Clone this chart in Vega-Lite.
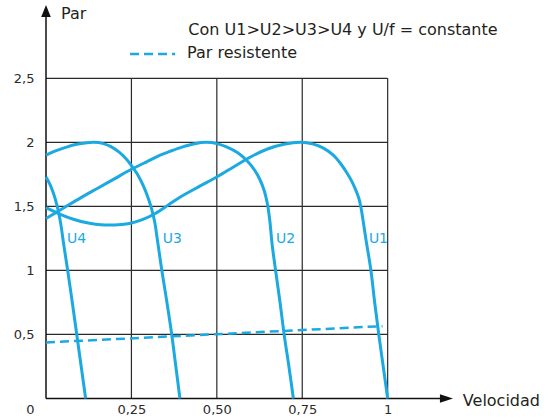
{
  "$schema": "https://vega.github.io/schema/vega-lite/v6.json",
  "width": 410,
  "height": 397,
  "autosize": {"type": "none"},
  "padding": {"left": 46, "top": 1.5, "right": 91, "bottom": 21.5},
  "background": "white",
  "config": {"view": {"stroke": null}},
  "data": {"values": [{"k": 1}]},
  "datasets": {
    "curves": [
      {"s": "U4", "x": 0, "y": 1.73},
      {"s": "U4", "x": 0.012, "y": 1.67},
      {"s": "U4", "x": 0.022, "y": 1.6},
      {"s": "U4", "x": 0.031, "y": 1.52},
      {"s": "U4", "x": 0.038, "y": 1.44},
      {"s": "U4", "x": 0.044, "y": 1.35},
      {"s": "U4", "x": 0.052, "y": 1.2},
      {"s": "U4", "x": 0.0635, "y": 1.0},
      {"s": "U4", "x": 0.077, "y": 0.75},
      {"s": "U4", "x": 0.09, "y": 0.5},
      {"s": "U4", "x": 0.103, "y": 0.25},
      {"s": "U4", "x": 0.116, "y": 0},
      {"s": "U3", "x": 0, "y": 1.9},
      {"s": "U3", "x": 0.03, "y": 1.935},
      {"s": "U3", "x": 0.06, "y": 1.963},
      {"s": "U3", "x": 0.09, "y": 1.985},
      {"s": "U3", "x": 0.12, "y": 1.997},
      {"s": "U3", "x": 0.14, "y": 2.0},
      {"s": "U3", "x": 0.165, "y": 1.992},
      {"s": "U3", "x": 0.19, "y": 1.967},
      {"s": "U3", "x": 0.215, "y": 1.922},
      {"s": "U3", "x": 0.235, "y": 1.87},
      {"s": "U3", "x": 0.25, "y": 1.818},
      {"s": "U3", "x": 0.27, "y": 1.74},
      {"s": "U3", "x": 0.285, "y": 1.66},
      {"s": "U3", "x": 0.299, "y": 1.565},
      {"s": "U3", "x": 0.309, "y": 1.48},
      {"s": "U3", "x": 0.318, "y": 1.38},
      {"s": "U3", "x": 0.326, "y": 1.24},
      {"s": "U3", "x": 0.339, "y": 1.0},
      {"s": "U3", "x": 0.354, "y": 0.75},
      {"s": "U3", "x": 0.368, "y": 0.5},
      {"s": "U3", "x": 0.38, "y": 0.25},
      {"s": "U3", "x": 0.392, "y": 0},
      {"s": "U2", "x": 0, "y": 1.406},
      {"s": "U2", "x": 0.05, "y": 1.485},
      {"s": "U2", "x": 0.1, "y": 1.565},
      {"s": "U2", "x": 0.15, "y": 1.64},
      {"s": "U2", "x": 0.2, "y": 1.715},
      {"s": "U2", "x": 0.25, "y": 1.79},
      {"s": "U2", "x": 0.3, "y": 1.855},
      {"s": "U2", "x": 0.334, "y": 1.9},
      {"s": "U2", "x": 0.363, "y": 1.93},
      {"s": "U2", "x": 0.4, "y": 1.965},
      {"s": "U2", "x": 0.435, "y": 1.99},
      {"s": "U2", "x": 0.47, "y": 2.0},
      {"s": "U2", "x": 0.5, "y": 1.99},
      {"s": "U2", "x": 0.53, "y": 1.962},
      {"s": "U2", "x": 0.56, "y": 1.92},
      {"s": "U2", "x": 0.587, "y": 1.86},
      {"s": "U2", "x": 0.61, "y": 1.785},
      {"s": "U2", "x": 0.626, "y": 1.71},
      {"s": "U2", "x": 0.639, "y": 1.62},
      {"s": "U2", "x": 0.648, "y": 1.52},
      {"s": "U2", "x": 0.655, "y": 1.39},
      {"s": "U2", "x": 0.662, "y": 1.2},
      {"s": "U2", "x": 0.672, "y": 1.0},
      {"s": "U2", "x": 0.685, "y": 0.75},
      {"s": "U2", "x": 0.697, "y": 0.5},
      {"s": "U2", "x": 0.711, "y": 0.25},
      {"s": "U2", "x": 0.724, "y": 0},
      {"s": "U1", "x": 0, "y": 1.49},
      {"s": "U1", "x": 0.04, "y": 1.44},
      {"s": "U1", "x": 0.08, "y": 1.4},
      {"s": "U1", "x": 0.12, "y": 1.372},
      {"s": "U1", "x": 0.16, "y": 1.357},
      {"s": "U1", "x": 0.2, "y": 1.355},
      {"s": "U1", "x": 0.24, "y": 1.365},
      {"s": "U1", "x": 0.28, "y": 1.395},
      {"s": "U1", "x": 0.32, "y": 1.445},
      {"s": "U1", "x": 0.36, "y": 1.515},
      {"s": "U1", "x": 0.392, "y": 1.572},
      {"s": "U1", "x": 0.45, "y": 1.658},
      {"s": "U1", "x": 0.5, "y": 1.73},
      {"s": "U1", "x": 0.55, "y": 1.81},
      {"s": "U1", "x": 0.6, "y": 1.888},
      {"s": "U1", "x": 0.65, "y": 1.95},
      {"s": "U1", "x": 0.7, "y": 1.987},
      {"s": "U1", "x": 0.745, "y": 2.0},
      {"s": "U1", "x": 0.78, "y": 1.988},
      {"s": "U1", "x": 0.812, "y": 1.955},
      {"s": "U1", "x": 0.84, "y": 1.902},
      {"s": "U1", "x": 0.862, "y": 1.835},
      {"s": "U1", "x": 0.88, "y": 1.765},
      {"s": "U1", "x": 0.895, "y": 1.695},
      {"s": "U1", "x": 0.907, "y": 1.625},
      {"s": "U1", "x": 0.916, "y": 1.56},
      {"s": "U1", "x": 0.922, "y": 1.49},
      {"s": "U1", "x": 0.928, "y": 1.39},
      {"s": "U1", "x": 0.936, "y": 1.25},
      {"s": "U1", "x": 0.951, "y": 1.0},
      {"s": "U1", "x": 0.962, "y": 0.75},
      {"s": "U1", "x": 0.974, "y": 0.5},
      {"s": "U1", "x": 0.987, "y": 0.25},
      {"s": "U1", "x": 1.0, "y": 0}
    ],
    "load": [
      {"x": 0, "y": 0.4375},
      {"x": 0.985, "y": 0.565}
    ],
    "gridV": [{"v": 0.25}, {"v": 0.5}, {"v": 0.75}, {"v": 1}],
    "gridH": [{"h": 0.5}, {"h": 1}, {"h": 1.5}, {"h": 2}, {"h": 2.5}],
    "labels": [
      {"label": "U4", "x": 0.0615, "y": 1.245},
      {"label": "U3", "x": 0.342, "y": 1.245},
      {"label": "U2", "x": 0.673, "y": 1.245},
      {"label": "U1", "x": 0.945, "y": 1.245}
    ]
  },
  "encoding": {
    "x": {
      "type": "quantitative",
      "scale": {"domain": [0, 1.2], "nice": false, "zero": false},
      "axis": {
        "title": null, "values": [0, 0.25, 0.5, 0.75, 1],
        "domain": false, "ticks": false, "grid": false,
        "labelFlush": false, "labelOverlap": false,
        "labelPadding": 5,
        "labelOffset": {"condition": {"test": "datum.value == 0", "value": -16}, "value": 0},
        "labelFont": "DejaVu Sans", "labelFontSize": 13, "labelColor": "#2b2b2b",
        "labelExpr": "datum.value == 0 ? '0' : datum.value == 1 ? '1' : replace(format(datum.value, '.2f'), '.', ',')"
      }
    },
    "y": {
      "type": "quantitative",
      "scale": {"domain": [0, 3.1], "nice": false, "zero": false},
      "axis": {
        "title": null, "values": [0.5, 1, 1.5, 2, 2.5],
        "domain": false, "ticks": false, "grid": false,
        "labelPadding": 12, "labelOverlap": false,
        "labelFont": "DejaVu Sans", "labelFontSize": 13, "labelColor": "#2b2b2b",
        "labelExpr": "replace(format(datum.value, '~g'), '.', ',')"
      }
    }
  },
  "layer": [
    {
      "data": {"name": "gridV"},
      "mark": {"type": "rule", "color": "#2a2a2a", "strokeWidth": 1.2},
      "encoding": {
        "x": {"field": "v"},
        "y": {"datum": 0},
        "y2": {"datum": 2.5}
      }
    },
    {
      "data": {"name": "gridH"},
      "mark": {"type": "rule", "color": "#2a2a2a", "strokeWidth": 1.2},
      "encoding": {
        "y": {"field": "h"},
        "x": {"datum": 0},
        "x2": {"datum": 1}
      }
    },
    {
      "mark": {"type": "rule", "color": "#111111", "strokeWidth": 1.5},
      "encoding": {
        "x": {"datum": 0},
        "x2": {"datum": 1.16},
        "y": {"datum": 0}
      }
    },
    {
      "mark": {"type": "rule", "color": "#111111", "strokeWidth": 1.5},
      "encoding": {
        "y": {"datum": 0},
        "y2": {"datum": 3.0},
        "x": {"datum": 0}
      }
    },
    {
      "mark": {"type": "point", "shape": "M0,-1L0.8,1L-0.8,1Z", "filled": true, "color": "#111111", "opacity": 1, "size": 144},
      "encoding": {
        "x": {"datum": 0},
        "y": {"datum": 3.026}
      }
    },
    {
      "mark": {"type": "point", "shape": "M1,0L-1,-0.65L-1,0.65Z", "filled": true, "color": "#111111", "opacity": 1, "size": 169},
      "encoding": {
        "x": {"datum": 1.172},
        "y": {"datum": 0}
      }
    },
    {
      "data": {"name": "load"},
      "mark": {"type": "line", "color": "#1ba9e1", "strokeWidth": 2.5, "strokeDash": [9, 5]},
      "encoding": {
        "x": {"field": "x"},
        "y": {"field": "y"}
      }
    },
    {
      "data": {"name": "curves"},
      "mark": {"type": "line", "color": "#1ba9e1", "strokeWidth": 3, "interpolate": "catmull-rom"},
      "encoding": {
        "x": {"field": "x"},
        "y": {"field": "y"},
        "detail": {"field": "s", "type": "nominal"}
      }
    },
    {
      "data": {"name": "labels"},
      "mark": {"type": "text", "align": "left", "baseline": "middle", "font": "DejaVu Sans", "fontSize": 14, "color": "#1ba9e1"},
      "encoding": {
        "x": {"field": "x"},
        "y": {"field": "y"},
        "text": {"field": "label"}
      }
    },
    {
      "mark": {"type": "rule", "color": "#1ba9e1", "strokeWidth": 2.5, "strokeDash": [9, 5]},
      "encoding": {
        "x": {"datum": 0.246},
        "x2": {"datum": 0.378},
        "y": {"datum": 2.69}
      }
    },
    {
      "mark": {"type": "text", "text": "Par resistente", "align": "left", "baseline": "middle", "font": "DejaVu Sans", "fontSize": 16, "color": "#231f20"},
      "encoding": {
        "x": {"datum": 0.413},
        "y": {"datum": 2.7}
      }
    },
    {
      "mark": {"type": "text", "text": "Con U1>U2>U3>U4 y U/f = constante", "align": "left", "baseline": "middle", "font": "DejaVu Sans", "fontSize": 16, "color": "#231f20"},
      "encoding": {
        "x": {"datum": 0.4165},
        "y": {"datum": 2.877}
      }
    },
    {
      "mark": {"type": "text", "text": "Par", "align": "left", "baseline": "middle", "font": "DejaVu Sans", "fontSize": 16, "color": "#231f20"},
      "encoding": {
        "x": {"datum": 0.044},
        "y": {"datum": 3.002}
      }
    },
    {
      "mark": {"type": "text", "text": "Velocidad", "align": "left", "baseline": "middle", "font": "DejaVu Sans", "fontSize": 16, "color": "#231f20"},
      "encoding": {
        "x": {"datum": 1.22},
        "y": {"datum": -0.017}
      }
    }
  ]
}
